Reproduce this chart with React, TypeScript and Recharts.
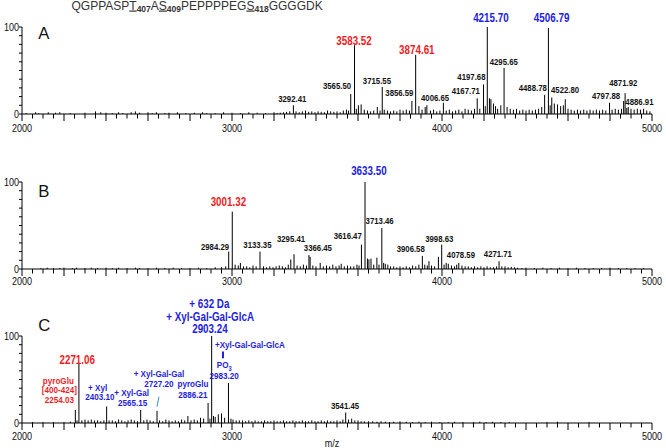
import React from 'react';
import { ComposedChart, Bar, Scatter, XAxis, YAxis, ReferenceLine } from 'recharts';

// ---------- data ----------
const X_DOMAIN: [number, number] = [2000, 5000];
const X_LABELS = [2000, 3000, 4000, 5000];
const Y_LABELS = [0, 100];
const X_TICKS: number[] = Array.from({ length: 61 }, (_, k) => 2000 + k * 50);
const Y_TICKS = [0, 10, 20, 30, 40, 50, 60, 70, 80, 90, 100];

const TITLE_PARTS = [
  { t: 'QGPPASP' }, { t: 'T', u: true }, { t: '407', sub: true },
  { t: 'A' }, { t: 'S', u: true }, { t: '409', sub: true },
  { t: 'PEPPPPEG' }, { t: 'S', u: true }, { t: '418', sub: true },
  { t: 'GGGGDK' },
];

const peaksA: [number, number][] = [
  [2020,1],[2065,2],[2080,1],[2125,2],[2160,1.5],[2180,2],[2230,1],[2300,1.5],[2350,3],[2375,2],[2400,1.5],[2430,1],
  [2460,2],[2480,1],[2520,2],[2540,3],[2560,1.5],[2600,2],[2620,1],[2640,2],[2680,1],[2700,1.5],[2740,2],[2780,1],
  [2820,1.5],[2860,2],[2880,1],[2920,1],[2960,2],[3000,1.5],[3040,1],[3080,2],[3120,1.5],[3160,1],[3200,2],[3215,1],
  [3230,1.5],[3245,2],[3260,2.5],[3275,3],[3292.41,10],[3305,3],[3320,2],[3335,3],[3350,4],[3365,2.5],[3380,3],[3395,2],
  [3410,3],[3425,2.5],[3440,2],[3455,4],[3470,3],[3485,2.5],[3500,3],[3515,2],[3530,4],[3545,5],[3555,4],[3565.5,23],
  [3583.52,79],[3592,6],[3602,10],[3615,11],[3630,5],[3645,4],[3660,3],[3675,4],[3692,8],[3705,4],[3715.55,31],[3725,5],
  [3740,4],[3755,3],[3770,4],[3785,3],[3800,5],[3815,4],[3830,5],[3845,4],[3856.59,15],[3874.61,68],[3890,9],[3905,5],
  [3920,8],[3928,10],[3945,4],[3960,5],[3975,3],[3990,4],[4006.65,13],[4020,4],[4035,5],[4050,3],[4065,4],[4080,5],
  [4095,3],[4110,6],[4125,5],[4140,4],[4155,6],[4167.71,18],[4180,6],[4197.68,34],[4206,9],[4215.7,100],[4226,18],[4233,17],
  [4245,12],[4255,9],[4265,6],[4280,10],[4295.65,53],[4310,8],[4325,6],[4340,5],[4355,6],[4370,4],[4385,5],[4400,4],
  [4415,5],[4430,4],[4445,5],[4460,6],[4475,8],[4488.78,22],[4506.79,99],[4515,10],[4522.8,19],[4535,12],[4550,11],[4565,9],
  [4578,10],[4587,17],[4600,6],[4615,5],[4630,4],[4645,5],[4660,4],[4675,5],[4690,4],[4705,5],[4720,4],[4735,5],
  [4750,4],[4765,5],[4780,4],[4797.88,13],[4810,5],[4825,6],[4840,5],[4855,6],[4865,15],[4871.92,24],[4880,7],[4886.91,8],
  [4900,6],[4915,5],[4930,6],[4945,5],[4960,6],[4975,4],[4990,3],
];

const peaksB: [number, number][] = [
  [2090,1],[2120,1.5],[2150,1],[2180,1],[2200,1.5],[2240,1],[2260,1.5],[2300,1],[2330,1.5],[2360,1],[2400,1.5],[2430,1],
  [2460,1.5],[2500,1],[2540,1.5],[2560,1],[2600,1],[2640,1.5],[2680,1],[2720,1.5],[2760,1],[2800,1],[2840,1.5],[2880,1],
  [2920,2],[2950,2],[2970,3],[2984.29,20],[3001.32,66],[3015,5],[3030,4],[3040,7],[3055,3],[3070,3],[3085,2],[3100,4],
  [3115,3],[3133.35,20],[3150,3],[3165,2],[3180,3],[3195,2],[3210,3],[3225,4],[3240,3],[3255,2],[3268,5],[3280,11],
  [3295.41,17],[3310,4],[3325,3],[3340,5],[3355,4],[3366.45,16],[3372,14],[3385,4],[3400,3],[3420,7],[3435,3],[3450,4],
  [3465,3],[3480,5],[3495,3],[3510,4],[3520,6],[3535,3],[3550,4],[3565,3],[3580,3],[3595,5],[3605,4],[3616.47,28],
  [3633.5,100],[3645,12],[3652,11],[3662,12],[3675,5],[3690,13],[3700,5],[3713.46,47],[3722,7],[3730,6],[3742,5],[3755,3],
  [3770,3],[3785,2],[3800,3],[3815,2],[3830,3],[3845,2],[3860,4],[3875,3],[3890,5],[3906.58,15],[3918,5],[3930,4],
  [3938,9],[3950,4],[3965,3],[3983,14],[3998.63,28],[4010,5],[4020,7],[4030,6],[4045,4],[4060,3],[4070,5],[4080,7],
  [4095,4],[4110,3],[4125,3],[4140,2],[4155,3],[4170,2],[4185,3],[4200,2],[4215,3],[4230,2],[4245,2],[4260,3],
  [4271.71,9],[4285,3],[4300,3],[4315,2],[4330,2.5],[4345,2],[4360,1.5],[4380,1],[4400,1.5],[4440,1],[4480,1.5],[4520,1],
  [4560,1.5],[4600,1],[4640,1.5],[4680,1],[4720,1],[4760,1],[4800,1.5],[4840,1],[4880,1],[4920,1],[4960,1],
];

const peaksC: [number, number][] = [
  [2050,1],[2100,1],[2150,1],[2200,1],[2230,1.5],[2254.03,15],[2262,3],[2271.06,68],[2285,3],[2300,4],[2315,3],[2330,4],
  [2345,3],[2360,3],[2375,2],[2390,3],[2403.1,19],[2415,3],[2430,3],[2445,2],[2460,4],[2475,3],[2490,2],[2505,3],
  [2520,4],[2535,3],[2550,2],[2565.15,15],[2580,3],[2595,4],[2610,3],[2625,2],[2643,14],[2655,3],[2670,2],[2685,4],
  [2700,3],[2715,2],[2730,3],[2745,2],[2760,4],[2775,3],[2790,8],[2805,3],[2820,4],[2835,3],[2850,6],[2865,5],
  [2886.21,23],[2895,5],[2903.24,100],[2912,8],[2920,7],[2935,10],[2950,11],[2965,6],[2983.2,46],[2995,5],[3005,4],[3020,3],
  [3035,3],[3050,3],[3065,2],[3080,3],[3095,2],[3110,3],[3125,2],[3140,2],[3155,3],[3170,2],[3185,2],[3200,3],
  [3215,2],[3230,2],[3245,3],[3260,2],[3275,2],[3290,3],[3305,2],[3320,2],[3335,3],[3350,2],[3365,2],[3380,3],
  [3395,2],[3410,2],[3425,3],[3440,2],[3455,3],[3470,2],[3485,2],[3500,3],[3515,2],[3528,4],[3541.45,12],[3555,4],
  [3570,5],[3585,3],[3600,3],[3615,2],[3630,2],[3650,2],[3670,2],[3690,1.5],[3710,2],[3730,1.5],[3750,1],[3770,1.5],
  [3800,2],[3830,1.5],[3860,1],[3890,1.5],[3920,1],[3950,1.5],[3990,1],[4030,1],[4060,1.5],[4100,1],[4150,1],[4180,1.5],
  [4210,1],[4240,1.5],[4280,1],[4320,1],[4500,1],[4550,1.5],[4700,1],
];

type Lab = { mz: number; i: number; text: string; kind: string; sub?: string };

const labelsA: Lab[] = [
  { mz: 4233, i: 110.3, text: '4215.70', kind: 'blue' },
  { mz: 4522, i: 110.3, text: '4506.79', kind: 'blue' },
  { mz: 3581, i: 84.3, text: '3583.52', kind: 'red' },
  { mz: 3880, i: 73.6, text: '3874.61', kind: 'red' },
  { mz: 3500, i: 32.5, text: '3565.50', kind: 'black' },
  { mz: 3690, i: 38.7, text: '3715.55', kind: 'black' },
  { mz: 3797, i: 24.5, text: '3856.59', kind: 'black' },
  { mz: 3967, i: 18.7, text: '4006.65', kind: 'black' },
  { mz: 4113, i: 27.2, text: '4167.71', kind: 'black' },
  { mz: 4140, i: 42.5, text: '4197.68', kind: 'black' },
  { mz: 4294, i: 60.1, text: '4295.65', kind: 'black' },
  { mz: 4432, i: 30.7, text: '4488.78', kind: 'black' },
  { mz: 4586, i: 28.4, text: '4522.80', kind: 'black' },
  { mz: 4781, i: 21.5, text: '4797.88', kind: 'black' },
  { mz: 4863, i: 35.6, text: '4871.92', kind: 'black' },
  { mz: 4940, i: 14.6, text: '4886.91', kind: 'black' },
  { mz: 3287, i: 17.9, text: '3292.41', kind: 'black' },
];

const labelsB: Lab[] = [
  { mz: 3652, i: 113.4, text: '3633.50', kind: 'blue' },
  { mz: 2983, i: 77.7, text: '3001.32', kind: 'red' },
  { mz: 2919, i: 26.2, text: '2984.29', kind: 'black' },
  { mz: 3121, i: 28.2, text: '3133.35', kind: 'black' },
  { mz: 3281, i: 35.2, text: '3295.41', kind: 'black' },
  { mz: 3409, i: 24.3, text: '3366.45', kind: 'black' },
  { mz: 3551, i: 37.9, text: '3616.47', kind: 'black' },
  { mz: 3703, i: 55.2, text: '3713.46', kind: 'black' },
  { mz: 3851, i: 23.4, text: '3906.58', kind: 'black' },
  { mz: 3987, i: 35.2, text: '3998.63', kind: 'black' },
  { mz: 4090, i: 16.1, text: '4078.59', kind: 'black' },
  { mz: 4266, i: 18, text: '4271.71', kind: 'black' },
];

const labelsC: Lab[] = [
  { mz: 2892, i: 136.6, text: '+ 632 Da', kind: 'blue' },
  { mz: 2896, i: 122.6, text: '+ Xyl-Gal-Gal-GlcA', kind: 'blue' },
  { mz: 2895, i: 108.3, text: '2903.24', kind: 'blue' },
  { mz: 3085, i: 90.1, text: '+Xyl-Gal-Gal-GlcA', kind: 'blueS' },
  { mz: 2963, i: 66.4, text: 'PO', sub: '3', kind: 'blueS' },
  { mz: 2963, i: 54, text: '2983.20', kind: 'blueS' },
  { mz: 2263, i: 73.2, text: '2271.06', kind: 'red' },
  { mz: 2173, i: 48.3, text: 'pyroGlu', kind: 'redS' },
  { mz: 2178, i: 37.9, text: '[400-424]', kind: 'redS' },
  { mz: 2178, i: 27.2, text: '2254.03', kind: 'redS' },
  { mz: 2360, i: 41, text: '+ Xyl', kind: 'blueS' },
  { mz: 2371, i: 30.2, text: '2403.10', kind: 'blueS' },
  { mz: 2522, i: 35.3, text: '+ Xyl-Gal', kind: 'blueS' },
  { mz: 2527, i: 23.8, text: '2565.15', kind: 'blueS' },
  { mz: 2652, i: 56.3, text: '+ Xyl-Gal-Gal', kind: 'blueS' },
  { mz: 2652, i: 44.8, text: '2727.20', kind: 'blueS' },
  { mz: 2814, i: 44.8, text: 'pyroGlu', kind: 'blueS' },
  { mz: 2814, i: 32.8, text: '2886.21', kind: 'blueS' },
  { mz: 3538, i: 19.9, text: '3541.45', kind: 'black' },
];

// leader / bar segments in panel C (m/z, intensity)
const segmentsC = [
  { pts: [{ x: 2652, y: 30.2 }, { x: 2643, y: 18.7 }], color: '#3b8fd8', w: 1 },
  { pts: [{ x: 2957, y: 82.2 }, { x: 2957, y: 74.4 }], color: '#1d1de0', w: 2 },
];

// ---------- styles ----------
const SANS = "'Liberation Sans', Arial, sans-serif";
const RED = '#ee1c25';
const BLUE = '#1d1de0';
const PX_PER_UNIT = 0.87;
const LABEL_STYLES: Record<string, { color: string; size: number; sx: number }> = {
  red: { color: RED, size: 12, sx: 0.82 },
  blue: { color: BLUE, size: 12, sx: 0.82 },
  redS: { color: RED, size: 9, sx: 0.9 },
  blueS: { color: BLUE, size: 9, sx: 0.9 },
  black: { color: '#111', size: 9.5, sx: 0.82 },
};

const toPts = (arr: [number, number][]) => arr.map(([mz, i]) => ({ mz, i }));

// condensed text: horizontally squeezed sans (Arial-Narrow-like)
const NarrowText = ({ x, y, anchor = 'middle', size, color, bold, children, dy = '0.36em', sx = 0.82 }: any) => (
  <g transform={`translate(${x},${y}) scale(${sx},1)`}>
    <text x={0} y={0} dy={dy} textAnchor={anchor} fontSize={size} fontFamily={SANS}
      fontWeight={bold ? 'bold' : 'normal'} fill={color}>{children}</text>
  </g>
);

const Stick = (props: any) => {
  const { x, y, width, height } = props;
  if (x == null || y == null || !height) return null;
  const cx = x + width / 2;
  return <line x1={cx} x2={cx} y1={y} y2={y + height} stroke="#000" strokeWidth={1} />;
};

const LabelShape = (props: any) => {
  const { cx, cy, payload } = props;
  if (cx == null || cy == null || !payload) return null;
  const st = LABEL_STYLES[payload.kind];
  return (
    <NarrowText x={cx} y={cy} size={st.size} color={st.color} sx={st.sx} bold>
      {payload.text}
      {payload.sub ? <tspan fontSize={st.size * 0.7} dy={2.5}>{payload.sub}</tspan> : null}
    </NarrowText>
  );
};

const makeXTick = (labelDy: number) => (props: any) => {
  const { x, y, payload } = props;
  const v = payload.value;
  const len = v % 200 === 0 ? 7 : 4.5;
  return (
    <g>
      <line x1={x} x2={x} y1={y} y2={y + len} stroke="#000" strokeWidth={1} />
      {X_LABELS.includes(v) ? (
        <NarrowText x={x} y={y + labelDy} size={11} color="#111" dy={0}>{v}</NarrowText>
      ) : null}
    </g>
  );
};

const YTick = (props: any) => {
  const { x, y, payload } = props;
  const v = payload.value;
  return (
    <g>
      <line x1={x - 3} x2={x} y1={y} y2={y} stroke="#000" strokeWidth={1} />
      {Y_LABELS.includes(v) ? (
        <NarrowText x={x - 3} y={y} anchor="end" size={11} color="#111">{v}</NarrowText>
      ) : null}
    </g>
  );
};

type PanelProps = {
  top: number; height: number; axisH: number; domainMax: number; labelDy: number;
  peaks: [number, number][]; labels: Lab[]; segments?: typeof segmentsC;
};

const Panel = ({ top, height, axisH, domainMax, labelDy, peaks, labels, segments = [] }: PanelProps) => {
  const marginTop = height - axisH - domainMax * PX_PER_UNIT;
  return (
    <div style={{ position: 'absolute', left: 0, top, width: 666, height }}>
      <ComposedChart width={666} height={height} data={toPts(peaks)}
        margin={{ top: marginTop, right: 14, bottom: 0, left: 0 }}>
        <XAxis type="number" dataKey="mz" domain={X_DOMAIN} ticks={X_TICKS} interval={0}
          tickSize={0} tickMargin={0} tickLine={false} axisLine={{ stroke: '#000' }} height={axisH}
          tick={makeXTick(labelDy)} />
        <YAxis type="number" domain={[0, domainMax]} ticks={Y_TICKS} interval={0} width={22}
          tickSize={0} tickMargin={0} tickLine={false} axisLine={false} tick={YTick} />
        <ReferenceLine segment={[{ x: 2000, y: 0 }, { x: 2000, y: 100 }]} stroke="#000" strokeWidth={1} />
        {segments.map((s, k) => (
          <ReferenceLine key={k} segment={s.pts} stroke={s.color} strokeWidth={s.w} />
        ))}
        <Bar dataKey="i" barSize={1} shape={Stick} isAnimationActive={false} />
        <Scatter data={labels} dataKey="i" shape={LabelShape} isAnimationActive={false} />
      </ComposedChart>
    </div>
  );
};

export default function App() {
  return (
    <div style={{ position: 'absolute', left: 0, top: 0, width: 666, height: 448, background: '#fff', overflow: 'hidden' }}>
      <Panel top={0} height={140} axisH={26} domainMax={130} labelDy={18} peaks={peaksA} labels={labelsA} />
      <Panel top={150} height={140} axisH={21} domainMax={130} labelDy={16} peaks={peaksB} labels={labelsB} />
      <Panel top={290} height={158} axisH={25} domainMax={145} labelDy={17} peaks={peaksC} labels={labelsC} segments={segmentsC} />
      <svg width={666} height={448} style={{ position: 'absolute', left: 0, top: 0, pointerEvents: 'none' }}>
        <text x={71.5} y={9.5} fontSize={12} fontFamily={SANS} fill="#333">
          {TITLE_PARTS.map((p, k) =>
            p.sub ? (
              <tspan key={k} fontSize={8.5} fontWeight="bold" dy={2.5}>{p.t}</tspan>
            ) : (
              <tspan key={k} dy={k > 0 && TITLE_PARTS[k - 1].sub ? -2.5 : 0}
                textDecoration={p.u ? 'underline' : undefined}>{p.t}</tspan>
            )
          )}
        </text>
        <text x={38.3} y={39.3} fontSize={16.7} fontFamily={SANS} fill="#111">A</text>
        <text x={38.3} y={197.3} fontSize={16.7} fontFamily={SANS} fill="#111">B</text>
        <text x={38.3} y={330.7} fontSize={16.7} fontFamily={SANS} fill="#111">C</text>
        <NarrowText x={332} y={447} size={11} color="#111" dy={0}>m/z</NarrowText>
      </svg>
    </div>
  );
}
